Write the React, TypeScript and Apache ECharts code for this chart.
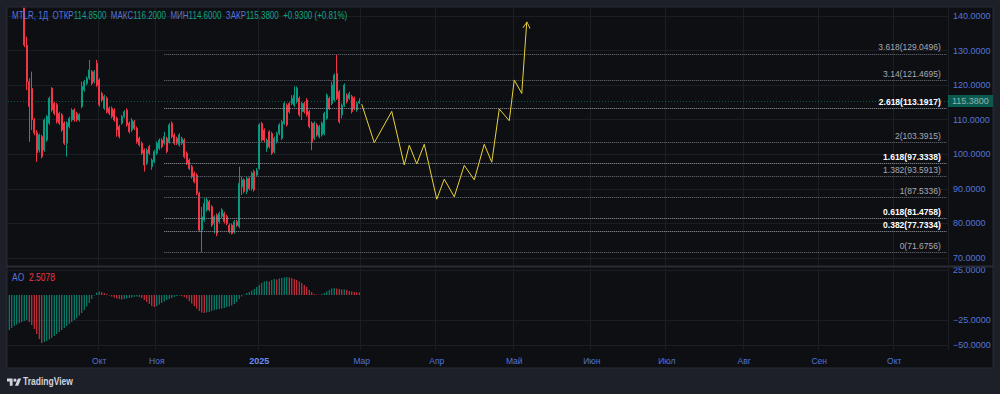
import React, { useEffect, useRef } from 'react';
import * as echarts from 'echarts';

// ---------- DATA ----------
const N_BARS = 376;
const MONTH_IDX = [36, 59, 100, 141, 171, 202, 233, 263, 294, 324, 354];
const MONTH_LABELS = ['Окт', 'Ноя', '2025', 'Мар', 'Апр', 'Май', 'Июн', 'Июл', 'Авг', 'Сен', 'Окт'];

const FIRST_CANDLE = 6;
// [open, close, low, high]
const CANDLES: number[][] = [
  [142.3, 131.6, 131, 142.3], [131.6, 121, 118.6, 134], [121, 113.8, 103.6, 122], [119, 110, 107, 123.9],
  [110, 106.2, 105.5, 110.5], [106.2, 100.4, 97.8, 107], [101.2, 105.6, 100.5, 106], [105.1, 99.3, 98.8, 105.6],
  [101.2, 109.9, 100.7, 110.4], [104.1, 110.9, 103.6, 111.4], [109, 116.2, 108.5, 116.7], [119.1, 112.8, 112.3, 119.4],
  [114.7, 111.8, 111.3, 115.2], [114.3, 109.4, 108.9, 114.8], [111.8, 109, 108.5, 112.3], [111.4, 107, 106.5, 111.9],
  [109, 103.2, 102.7, 109.5], [103.2, 109, 99.3, 109.5], [108, 110.4, 107.5, 110.9], [109.9, 112.8, 109.4, 113.3],
  [112.8, 109.9, 109.4, 113.3], [111.8, 109.9, 109.4, 112.3], [109.9, 111.4, 109.4, 111.9], [113.8, 119.6, 113.3, 121],
  [118.6, 121, 118.1, 121.5], [120.5, 122, 120, 122.5], [122, 124.4, 121.5, 127.3], [123.9, 120.5, 120, 124.4],
  [121, 123.9, 120.5, 124.4], [126.3, 120, 119.5, 127.3], [121.5, 114.3, 113.8, 122], [117.6, 115.7, 115.2, 118.1],
  [113.3, 116.7, 112.8, 117.2], [116.2, 112.3, 111.8, 116.7], [113.3, 111.8, 111.3, 113.8], [113.3, 110.9, 110.4, 113.8],
  [112.8, 109.9, 109.4, 113.3], [110.4, 107, 105.1, 110.9], [108, 105.1, 104.6, 108.5], [109, 110.9, 108.5, 111.4],
  [110.9, 112.3, 110.4, 112.8], [112.8, 108.5, 108, 113.3], [109, 106.5, 106, 109.5], [107, 109.9, 106.5, 110.4],
  [109.4, 107.5, 107, 109.9], [107.5, 103.6, 103.1, 108], [104.6, 102.7, 102.2, 105.1], [103.2, 100.3, 99.8, 103.7],
  [101.2, 96.9, 95, 101.7], [97.4, 101.2, 96.9, 101.7], [102.2, 100.3, 99.8, 102.7], [96.4, 98.3, 95.5, 98.8],
  [97.9, 100.8, 97.4, 101.3], [100.3, 103.2, 99.8, 103.7], [101.7, 104.1, 101.2, 104.6], [104.1, 102.2, 101.7, 104.6],
  [103.2, 105.1, 102.7, 106.5], [104.6, 100.8, 100.3, 105.1], [103.6, 108.5, 103.1, 109], [109, 105.1, 104.6, 109.5],
  [105.6, 103.2, 102.7, 106.1], [104.6, 103.2, 102.7, 105.1], [102.7, 105.6, 102.2, 106.1], [103.2, 104.6, 102.7, 105.1],
  [104.1, 99.3, 98.8, 104.6], [100.3, 97.4, 96.9, 100.8], [98.3, 95.9, 95.4, 98.8], [96.4, 93.5, 93, 96.9],
  [94.5, 92.1, 91.6, 95], [94, 88.7, 88.2, 94.5], [88.7, 78.1, 77.6, 89.2], [78.1, 81.9, 71.68, 84.8],
  [81, 85.8, 80.5, 87.2], [83.9, 86.8, 83.4, 87.53], [86.3, 83.9, 83.4, 86.8], [84.8, 79.5, 79, 85.3],
  [80, 81.9, 77.1, 82.4], [82.4, 77.1, 76.3, 82.9], [80.5, 82.9, 80, 83.4], [82, 83.9, 81.5, 84.4],
  [82.9, 80.5, 80, 83.4], [82, 80, 79.5, 82.5], [79.5, 77.6, 77.1, 80], [79.5, 77.1, 76.8, 80],
  [77.5, 80.5, 77, 81], [80.5, 79.5, 79, 81], [79.1, 91.6, 78.6, 96.4], [90.6, 92.6, 88.2, 93.5],
  [92.6, 89.2, 88.7, 93], [89.2, 93, 88.5, 93.5], [93, 90.1, 89.6, 93.5], [90.1, 94.5, 89.5, 95],
  [95, 89.7, 89.2, 95.5], [94, 95.4, 93.5, 96], [95.9, 108.5, 95.5, 109], [108.9, 104.1, 103.6, 109.4],
  [107, 104.1, 103.6, 107.5], [101.7, 104.1, 100.7, 104.6], [106.5, 102.2, 101.7, 107], [106, 100.3, 99.8, 106.5],
  [100.8, 104.6, 100.3, 105.1], [103.6, 106, 103.1, 106.5], [106, 108.5, 105.5, 109], [104.6, 109.4, 104.1, 109.9],
  [109, 114.7, 108.5, 115.2], [114.2, 108.5, 108, 114.7], [114.7, 112.3, 111.8, 115.2], [114.7, 116.2, 114.2, 117.1],
  [114.2, 117.1, 113.7, 119.6], [115.2, 119.1, 114.7, 119.6], [116.2, 111.4, 110.9, 116.7], [112.3, 114.7, 109.9, 115.2],
  [114.7, 112.3, 111.8, 115.2], [115.7, 111.4, 110.9, 116.2], [112.3, 108, 107.5, 112.8], [109, 103.6, 101.2, 109.5],
  [104.6, 109, 104.1, 109.5], [108.5, 105.6, 105.1, 109], [105.1, 108, 104.6, 108.5], [105.6, 109, 105.1, 109.5],
  [106, 111.8, 105.5, 112.3], [110.4, 117.1, 110, 117.6], [116.2, 113.3, 112.8, 116.7], [114.7, 120, 114.2, 121],
  [115.7, 122.9, 115.2, 123.4], [123.4, 116.2, 115.7, 128.7], [118.1, 109.4, 108.9, 118.6], [111.4, 114.2, 110.4, 114.7],
  [114.2, 120, 113.7, 120.5], [117.1, 115.2, 114.7, 117.6], [116.2, 117.6, 115.7, 118.1], [116.7, 112.3, 111.8, 117.2],
  [116.2, 113.3, 112.8, 116.7], [112.8, 114.7, 112.3, 115.2], [114.85, 115.38, 114.6, 116.2],
];

const AO_VALUES = [
  -35, -33, -31, -29.5, -28, -27, -26, -25, -27, -30, -34, -39, -44, -48, -47, -46, -44.5, -43, -41, -39,
  -37, -35, -33, -31, -29, -27, -25, -23, -20.5, -18, -15, -11.5, -8, -4, -0.5, 2.5, 3.5, 3, 2, 1,
  -0.5, -1.5, -2.5, -3.5, -4, -4.5, -4, -3.5, -3, -2.5, -2, -1.5, -2, -3, -5, -7, -9, -11, -12, -11,
  -9.5, -8, -6.5, -5, -4, -3, -2, -1, -0.5, -1, -2, -3.5, -6, -8.5, -11, -13.5, -16, -17.5, -18, -17.5,
  -17, -16, -15, -14.5, -14, -13.5, -13, -12, -11.5, -10.5, -9, -7, -4, -1.5, 0.5, 2, 3, 4.5, 6, 8,
  10, 12, 13.5, 14, 13.5, 15, 16, 15.5, 16.5, 17, 17.5, 18, 17.5, 17, 16, 15, 13.5, 12, 10, 8,
  5, 3, 1, 0.5, 0.3, 1, 2, 3.5, 5, 6.5, 7, 6.5, 6, 5.5, 5.5, 5, 4, 3.5, 3, 2.8, 2.5078,
];

const PATH_IDX = [141, 146, 153, 158, 160, 163, 166, 171, 174, 178, 182, 186, 190, 193, 196, 200, 202, 205, 207];
const PATH_VAL = [114.5, 103.35, 112.4, 96.9, 102.6, 97.2, 102.9, 87.0, 92.8, 87.7, 96.8, 92.6, 102.9, 97.7, 113.1, 109.7, 121.5, 117.6, 138.3];

const FIB_START = 62;
const FIB_RATIOS = ['0', '0.382', '0.618', '1', '1.382', '1.618', '2', '2.618', '3.14', '3.618'];
const FIB_PRICES = [71.6756, 77.7334, 81.4758, 87.5336, 93.5913, 97.3338, 103.3915, 113.1917, 121.4695, 129.0496];
const FIB_STRONG = [false, true, true, false, false, true, false, true, false, false];

const PRICE_TICKS = [70, 80, 90, 100, 110, 120, 130, 140];
const AO_TICKS = [25, -25, -50];

const SYMBOL = 'MTLR, 1Д';
const OPEN = 114.85, HIGH = 116.2, LOW = 114.6, CLOSE = 115.38, CHANGE = 0.93, CHANGE_PCT = 0.81;
const AO_LAST = 2.5078;

// ---------- STYLE ----------
const UP = '#089981';
const DOWN = '#f23645';
const AXIS_BLUE = '#5474d6';
const GRID_LINE = '#1b1e25';
const PATH_COLOR = '#e8d33a';
const FONT = 'Liberation Sans, Arial, sans-serif';

const fmt = (v: number) => (v < 0 ? '−' + Math.abs(v).toFixed(4) : v.toFixed(4));

echarts.graphic.registerShape(
  'tvlogo',
  echarts.graphic.extendPath(
    'M14 22H7V11H0V4h14v18z M28 22h-8l7.5-18h8L28 22z M20 4a4 4 0 1 1 0 8a4 4 0 1 1 0 -8z',
    {}
  ) as any
);

export default function App() {
  const ref = useRef<HTMLDivElement>(null);

  useEffect(() => {
    document.body.style.margin = '0';
    const chart = echarts.init(ref.current!, undefined, { renderer: 'svg' });
    const cats = Array.from({ length: N_BARS }, (_, i) => String(i));

    const candleData: any[] = [];
    for (let i = 0; i < FIRST_CANDLE; i++) candleData.push(['-', '-', '-', '-']);
    CANDLES.forEach((c) => candleData.push(c));

    const aoData = AO_VALUES.map((v, i) => ({
      value: v,
      itemStyle: { color: i === 0 || v >= AO_VALUES[i - 1] ? UP : DOWN },
    }));

    const pathData = PATH_IDX.map((x, k) => [x, PATH_VAL[k]]);
    const lastK = PATH_IDX.length - 1;

    const fibLines = FIB_PRICES.map((p, k) => [
      {
        coord: [String(FIB_START), p],
        lineStyle: { color: FIB_STRONG[k] ? '#9a9da6' : '#6f727c', width: 1, type: [1, 1] },
        label: {
          show: true,
          position: 'insideEndTop',
          distance: [6, 2],
          formatter: `${FIB_RATIOS[k]}(${p.toFixed(4)})`,
          color: FIB_STRONG[k] ? '#ffffff' : '#a7aab3',
          fontWeight: FIB_STRONG[k] ? 'bold' : 'normal',
          fontSize: 8.5,
          fontFamily: FONT,
        },
      },
      { coord: [String(N_BARS - 1), p] },
    ]);

    const monthInterval = (i: number) => MONTH_IDX.includes(i);

    const headerText =
      `{s|${SYMBOL}}  {l|ОТКР}{v|${OPEN.toFixed(4)}}  {l|МАКС}{v|${HIGH.toFixed(4)}}  ` +
      `{l|МИН}{v|${LOW.toFixed(4)}}  {l|ЗАКР}{v|${CLOSE.toFixed(4)}}  ` +
      `{v|+${CHANGE.toFixed(4)} (+${CHANGE_PCT.toFixed(2)}%)}`;

    const option: any = {
      animation: false,
      backgroundColor: '#1e2029',
      textStyle: { fontFamily: FONT },
      graphic: [
        {
          type: 'rect',
          z: -10,
          silent: true,
          shape: { x: 7, y: 7, width: 986, height: 361 },
          style: { fill: '#0e0f13', stroke: '#2a2d36', lineWidth: 1 },
        },
        {
          type: 'line',
          z: 10,
          silent: true,
          shape: { x1: 7, y1: 266.5, x2: 993, y2: 266.5 },
          style: { stroke: '#2a2d36', lineWidth: 2 },
        },
        {
          type: 'text',
          z: 20,
          x: 12,
          y: 16,
          scaleX: 0.8,
          style: {
            text: headerText,
            fontSize: 10,
            fontFamily: FONT,
            fill: AXIS_BLUE,
            verticalAlign: 'middle',
            rich: {
              s: { fill: AXIS_BLUE, fontSize: 10, fontFamily: FONT },
              l: { fill: AXIS_BLUE, fontSize: 10, fontFamily: FONT },
              v: { fill: '#14a386', fontSize: 10, fontFamily: FONT },
            },
          },
        },
        {
          type: 'text',
          z: 20,
          x: 12,
          y: 278,
          scaleX: 0.85,
          style: {
            text: `{l|AO}  {r|${AO_LAST.toFixed(4)}}`,
            fontSize: 10,
            fontFamily: FONT,
            verticalAlign: 'middle',
            rich: {
              l: { fill: AXIS_BLUE, fontSize: 10, fontFamily: FONT },
              r: { fill: DOWN, fontSize: 10, fontFamily: FONT },
            },
          },
        },
        {
          type: 'tvlogo',
          x: 7,
          y: 377,
          scaleX: 0.4,
          scaleY: 0.4,
          style: { fill: '#d1d4dc' },
        },
        {
          type: 'text',
          x: 23,
          y: 382,
          scaleX: 0.85,
          style: {
            text: 'TradingView',
            fill: '#d1d4dc',
            fontSize: 10,
            fontWeight: 'bold',
            fontFamily: FONT,
            verticalAlign: 'middle',
          },
        },
      ],
      grid: [
        { left: 8, right: 52, top: 8, height: 257 },
        { left: 8, right: 52, top: 268, height: 82 },
      ],
      xAxis: [
        {
          type: 'category',
          gridIndex: 0,
          data: cats,
          boundaryGap: true,
          axisLine: { show: false },
          axisTick: { show: false },
          axisLabel: { show: false },
          splitLine: { show: true, interval: monthInterval, lineStyle: { color: GRID_LINE } },
        },
        {
          type: 'category',
          gridIndex: 1,
          data: cats,
          boundaryGap: true,
          axisLine: { show: false },
          axisTick: { show: false },
          axisLabel: {
            show: true,
            interval: monthInterval,
            margin: 6,
            fontSize: 8.5,
            color: AXIS_BLUE,
            fontFamily: FONT,
            formatter: (_v: string, idx: number) => {
              const k = MONTH_IDX.indexOf(idx);
              if (k < 0) return '';
              return MONTH_LABELS[k] === '2025' ? `{b|${MONTH_LABELS[k]}}` : MONTH_LABELS[k];
            },
            rich: { b: { fontSize: 9, fontWeight: 'bold', color: '#6b8cf0', fontFamily: FONT } },
          },
          splitLine: { show: true, interval: monthInterval, lineStyle: { color: GRID_LINE } },
        },
      ],
      yAxis: [
        {
          type: 'value',
          gridIndex: 0,
          position: 'right',
          min: 67.97,
          max: 142.31,
          axisLine: { show: false },
          axisTick: { show: false, customValues: PRICE_TICKS },
          axisLabel: {
            customValues: PRICE_TICKS,
            formatter: (v: number) => fmt(v),
            color: AXIS_BLUE,
            fontSize: 9,
            margin: 5,
            fontFamily: FONT,
          },
          splitLine: { show: true, lineStyle: { color: GRID_LINE } },
        },
        {
          type: 'value',
          gridIndex: 1,
          position: 'right',
          min: -55,
          max: 27,
          axisLine: { show: false },
          axisTick: { show: false, customValues: AO_TICKS },
          axisLabel: {
            customValues: AO_TICKS,
            formatter: (v: number) => fmt(v),
            color: AXIS_BLUE,
            fontSize: 9,
            margin: 5,
            fontFamily: FONT,
          },
          splitLine: { show: true, lineStyle: { color: GRID_LINE } },
        },
      ],
      series: [
        {
          type: 'candlestick',
          xAxisIndex: 0,
          yAxisIndex: 0,
          data: candleData,
          barWidth: 1.4,
          clip: true,
          itemStyle: {
            color: UP,
            color0: DOWN,
            borderColor: UP,
            borderColor0: DOWN,
            borderWidth: 1,
          },
          markLine: {
            silent: true,
            symbol: ['none', 'none'],
            animation: false,
            data: [
              ...fibLines,
              {
                yAxis: CLOSE,
                lineStyle: { color: UP, opacity: 0.55, width: 1, type: [1, 2] },
                label: {
                  show: true,
                  position: 'end',
                  distance: 0,
                  formatter: CLOSE.toFixed(4),
                  color: '#ffffff',
                  backgroundColor: UP,
                  padding: [2, 4, 1, 4],
                  fontSize: 9,
                  fontFamily: FONT,
                },
              },
            ],
          },
        },
        {
          type: 'line',
          xAxisIndex: 0,
          yAxisIndex: 0,
          data: pathData,
          showSymbol: false,
          symbol: 'none',
          lineStyle: { color: PATH_COLOR, width: 1 },
          z: 5,
          markPoint: {
            silent: true,
            animation: false,
            data: [
              {
                coord: [PATH_IDX[lastK], PATH_VAL[lastK]],
                symbol: 'path://M0,10 L5,0 L10,10 L9,10.6 L5,2.2 L1,10.6 Z',
                symbolSize: [8, 7],
                symbolRotate: -5,
                symbolOffset: [0, 3],
                itemStyle: { color: PATH_COLOR },
                label: { show: false },
              },
            ],
          },
        },
        {
          type: 'bar',
          xAxisIndex: 1,
          yAxisIndex: 1,
          data: aoData,
          barWidth: 1,
          markLine: {
            silent: true,
            symbol: ['none', 'none'],
            animation: false,
            data: [
              {
                yAxis: AO_LAST,
                lineStyle: { opacity: 0 },
                label: {
                  show: true,
                  position: 'end',
                  distance: 0,
                  formatter: AO_LAST.toFixed(4),
                  color: '#ffffff',
                  backgroundColor: DOWN,
                  padding: [2, 4, 1, 4],
                  fontSize: 9,
                  fontFamily: FONT,
                },
              },
            ],
          },
        },
      ],
    };

    chart.setOption(option);
    return () => chart.dispose();
  }, []);

  return <div ref={ref} style={{ position: 'fixed', left: 0, top: 0, width: 1000, height: 394 }} />;
}
